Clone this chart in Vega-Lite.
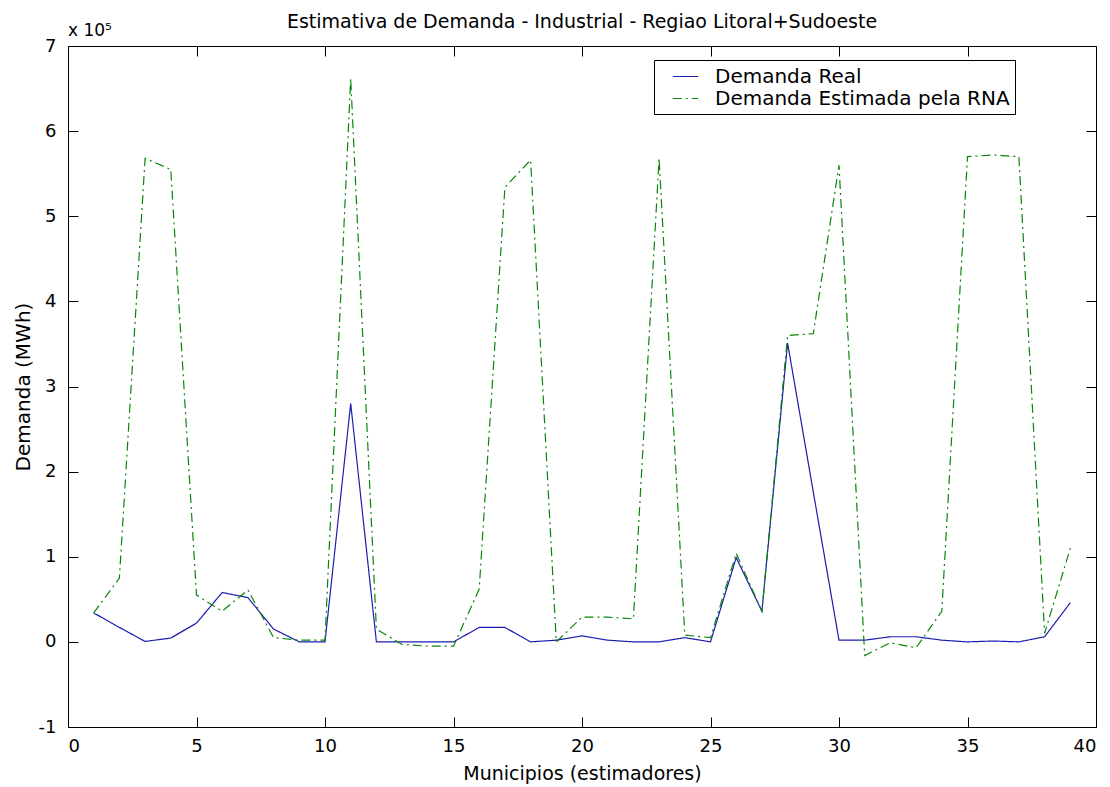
{
  "$schema": "https://vega.github.io/schema/vega-lite/v6.json",
  "width": 1028,
  "height": 681,
  "autosize": "none",
  "padding": {"left": 68, "top": 46, "right": 14, "bottom": 60},
  "background": "white",
  "config": {
    "font": "DejaVu Sans",
    "view": {"stroke": "black", "strokeWidth": 1},
    "axis": {"grid": false, "domain": false, "labelFont": "DejaVu Sans", "labelFontSize": 18, "labelColor": "black", "titleFont": "DejaVu Sans", "titleFontSize": 19, "titleFontWeight": "normal", "titleColor": "black", "tickColor": "black", "tickSize": -10, "tickWidth": 1}
  },
  "title": {"text": "Estimativa de Demanda - Industrial - Regiao Litoral+Sudoeste", "font": "DejaVu Sans", "fontSize": 19, "fontWeight": "normal", "color": "black", "offset": -10},
  "data": {"values": [
    {"m": 1, "s": "Demanda Real", "d": 34000}, {"m": 2, "s": "Demanda Real", "d": 17000}, {"m": 3, "s": "Demanda Real", "d": 500},
    {"m": 4, "s": "Demanda Real", "d": 4500}, {"m": 5, "s": "Demanda Real", "d": 22000}, {"m": 6, "s": "Demanda Real", "d": 58000},
    {"m": 7, "s": "Demanda Real", "d": 52000}, {"m": 8, "s": "Demanda Real", "d": 15000}, {"m": 9, "s": "Demanda Real", "d": 0},
    {"m": 10, "s": "Demanda Real", "d": 0}, {"m": 11, "s": "Demanda Real", "d": 280000}, {"m": 12, "s": "Demanda Real", "d": 0},
    {"m": 13, "s": "Demanda Real", "d": 0}, {"m": 14, "s": "Demanda Real", "d": 0}, {"m": 15, "s": "Demanda Real", "d": 0},
    {"m": 16, "s": "Demanda Real", "d": 17000}, {"m": 17, "s": "Demanda Real", "d": 17000}, {"m": 18, "s": "Demanda Real", "d": 0},
    {"m": 19, "s": "Demanda Real", "d": 2000}, {"m": 20, "s": "Demanda Real", "d": 7000}, {"m": 21, "s": "Demanda Real", "d": 2000},
    {"m": 22, "s": "Demanda Real", "d": 0}, {"m": 23, "s": "Demanda Real", "d": 0}, {"m": 24, "s": "Demanda Real", "d": 5000},
    {"m": 25, "s": "Demanda Real", "d": 0}, {"m": 26, "s": "Demanda Real", "d": 99000}, {"m": 27, "s": "Demanda Real", "d": 36000},
    {"m": 28, "s": "Demanda Real", "d": 351000}, {"m": 29, "s": "Demanda Real", "d": 176000}, {"m": 30, "s": "Demanda Real", "d": 2000},
    {"m": 31, "s": "Demanda Real", "d": 2000}, {"m": 32, "s": "Demanda Real", "d": 6000}, {"m": 33, "s": "Demanda Real", "d": 6000},
    {"m": 34, "s": "Demanda Real", "d": 2000}, {"m": 35, "s": "Demanda Real", "d": 0}, {"m": 36, "s": "Demanda Real", "d": 1000},
    {"m": 37, "s": "Demanda Real", "d": 0}, {"m": 38, "s": "Demanda Real", "d": 6000}, {"m": 39, "s": "Demanda Real", "d": 46000},
    {"m": 1, "s": "Demanda Estimada pela RNA", "d": 34000}, {"m": 2, "s": "Demanda Estimada pela RNA", "d": 75000}, {"m": 3, "s": "Demanda Estimada pela RNA", "d": 568000},
    {"m": 4, "s": "Demanda Estimada pela RNA", "d": 555000}, {"m": 5, "s": "Demanda Estimada pela RNA", "d": 55000}, {"m": 6, "s": "Demanda Estimada pela RNA", "d": 36000},
    {"m": 7, "s": "Demanda Estimada pela RNA", "d": 61000}, {"m": 8, "s": "Demanda Estimada pela RNA", "d": 5000}, {"m": 9, "s": "Demanda Estimada pela RNA", "d": 2000},
    {"m": 10, "s": "Demanda Estimada pela RNA", "d": 2000}, {"m": 11, "s": "Demanda Estimada pela RNA", "d": 662000}, {"m": 12, "s": "Demanda Estimada pela RNA", "d": 15000},
    {"m": 13, "s": "Demanda Estimada pela RNA", "d": -3000}, {"m": 14, "s": "Demanda Estimada pela RNA", "d": -5000}, {"m": 15, "s": "Demanda Estimada pela RNA", "d": -5000},
    {"m": 16, "s": "Demanda Estimada pela RNA", "d": 62000}, {"m": 17, "s": "Demanda Estimada pela RNA", "d": 534000}, {"m": 18, "s": "Demanda Estimada pela RNA", "d": 566000},
    {"m": 19, "s": "Demanda Estimada pela RNA", "d": 0}, {"m": 20, "s": "Demanda Estimada pela RNA", "d": 29000}, {"m": 21, "s": "Demanda Estimada pela RNA", "d": 29000},
    {"m": 22, "s": "Demanda Estimada pela RNA", "d": 27000}, {"m": 23, "s": "Demanda Estimada pela RNA", "d": 568000}, {"m": 24, "s": "Demanda Estimada pela RNA", "d": 8000},
    {"m": 25, "s": "Demanda Estimada pela RNA", "d": 5000}, {"m": 26, "s": "Demanda Estimada pela RNA", "d": 104000}, {"m": 27, "s": "Demanda Estimada pela RNA", "d": 36000},
    {"m": 28, "s": "Demanda Estimada pela RNA", "d": 360000}, {"m": 29, "s": "Demanda Estimada pela RNA", "d": 362000}, {"m": 30, "s": "Demanda Estimada pela RNA", "d": 560000},
    {"m": 31, "s": "Demanda Estimada pela RNA", "d": -16000}, {"m": 32, "s": "Demanda Estimada pela RNA", "d": -1000}, {"m": 33, "s": "Demanda Estimada pela RNA", "d": -7000},
    {"m": 34, "s": "Demanda Estimada pela RNA", "d": 36000}, {"m": 35, "s": "Demanda Estimada pela RNA", "d": 570000}, {"m": 36, "s": "Demanda Estimada pela RNA", "d": 572000},
    {"m": 37, "s": "Demanda Estimada pela RNA", "d": 570000}, {"m": 38, "s": "Demanda Estimada pela RNA", "d": 10000}, {"m": 39, "s": "Demanda Estimada pela RNA", "d": 110000}
  ]},
  "layer": [
    {
      "mark": {"type": "line", "strokeWidth": 1.2},
      "encoding": {
        "x": {"field": "m", "type": "quantitative", "scale": {"domain": [0, 40], "nice": false}, "axis": {"orient": "bottom", "values": [0, 5, 10, 15, 20, 25, 30, 35, 40], "title": "Municipios (estimadores)", "labelPadding": 20, "titlePadding": 9}},
        "y": {"field": "d", "type": "quantitative", "scale": {"domain": [-100000, 700000], "nice": false, "zero": false}, "axis": {"orient": "left", "values": [-100000, 0, 100000, 200000, 300000, 400000, 500000, 600000, 700000], "labelExpr": "'' + (datum.value / 100000)", "title": "Demanda (MWh)", "titleFontSize": 20, "labelPadding": 22, "titlePadding": 5}},
        "color": {"field": "s", "type": "nominal", "scale": {"domain": ["Demanda Real", "Demanda Estimada pela RNA"], "range": ["#1c1cb0", "#0a850a"]}, "legend": {"title": null, "orient": "none", "legendX": 586, "legendY": 14, "symbolType": "M-1.2,0H1.2", "symbolSize": 450, "symbolStrokeWidth": 1.2, "symbolFillColor": "transparent", "labelFont": "DejaVu Sans", "labelFontSize": 20, "labelColor": "black", "labelLimit": 500, "strokeColor": "black", "fillColor": "white", "padding": 5, "rowPadding": 0, "labelOffset": 18, "symbolOffset": 15}},
        "strokeDash": {"field": "s", "type": "nominal", "scale": {"domain": ["Demanda Real", "Demanda Estimada pela RNA"], "range": [[1, 0], [9, 4, 2, 4]]}, "legend": {"title": null}}
      }
    },
    {
      "mark": {"type": "point", "opacity": 0},
      "encoding": {
        "x": {"field": "m", "type": "quantitative", "axis": {"orient": "top", "values": [0, 5, 10, 15, 20, 25, 30, 35, 40], "labels": false, "title": null}},
        "y": {"field": "d", "type": "quantitative", "axis": {"orient": "right", "values": [-100000, 0, 100000, 200000, 300000, 400000, 500000, 600000, 700000], "labels": false, "title": null}}
      }
    },
    {
      "data": {"values": [{"m": 0, "d": 700000, "t": "x 10⁵"}]},
      "mark": {"type": "text", "align": "left", "baseline": "bottom", "dy": -6, "fontSize": 17, "font": "DejaVu Sans", "color": "black"},
      "encoding": {
        "x": {"field": "m", "type": "quantitative", "axis": null},
        "y": {"field": "d", "type": "quantitative", "axis": null},
        "text": {"field": "t"}
      }
    }
  ],
  "resolve": {"axis": {"x": "independent", "y": "independent"}}
}
